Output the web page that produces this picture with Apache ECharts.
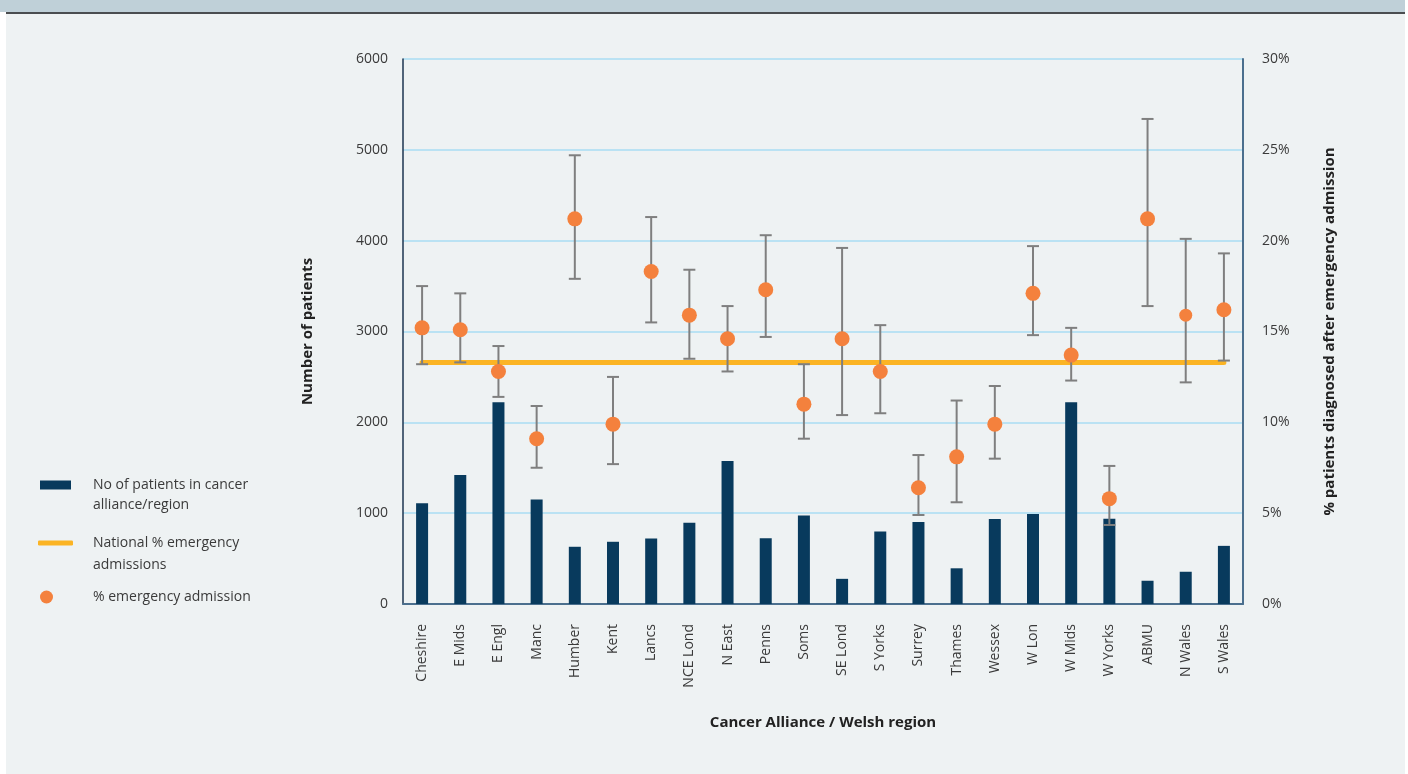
<!DOCTYPE html>
<html>
<head>
<meta charset="utf-8">
<script src="https://cdn.jsdelivr.net/npm/echarts@6/dist/echarts.min.js"></script>
<style>
html,body{margin:0;padding:0;background:#ffffff;}
#chart{width:1408px;height:774px;}
</style>
</head>
<body>
<div id="chart"></div>
<script>
// ---- data ----
const categories = ['Cheshire','E Mids','E Engl','Manc','Humber','Kent','Lancs','NCE Lond','N East','Penns','Soms','SE Lond','S Yorks','Surrey','Thames','Wessex','W Lon','W Mids','W Yorks','ABMU','N Wales','S Wales'];
const patients = [1110,1420,2220,1150,630,685,720,895,1575,725,975,277,797,902,393,935,990,2220,938,256,355,640];
const pctEmergency = [15.2,15.1,12.8,9.1,21.2,9.9,18.3,15.9,14.6,17.3,11.0,14.6,12.8,6.4,8.1,9.9,17.1,13.7,5.8,21.2,15.9,16.2];
const pctLower = [13.2,13.3,11.4,7.5,17.9,7.7,15.5,13.5,12.8,14.7,9.1,10.4,10.5,4.9,5.6,8.0,14.8,12.3,4.35,16.4,12.2,13.4];
const pctUpper = [17.5,17.1,14.2,10.9,24.7,12.5,21.3,18.4,16.4,20.3,13.2,19.6,15.35,8.2,11.2,12.0,19.7,15.2,7.6,26.7,20.1,19.3];
const nationalPct = 13.3;
const leftTicks = {min:0, max:6000, interval:1000};
const rightTicks = {min:0, max:30, interval:5};

const NAME_BAR = 'No of patients in cancer\nalliance/region';
const NAME_LINE = 'National % emergency\nadmissions';
const NAME_DOT = '% emergency admission';

const FONT = '"Open Sans", "Noto Sans", sans-serif';
const TXT = '#3a3a3a';

const chart = echarts.init(document.getElementById('chart'), null, {renderer:'canvas'});

const errData = categories.map((c,i)=>[i, pctLower[i], pctUpper[i]]);
const dotData = pctEmergency.map((v,i)=> categories[i]==='N Wales' ? {value:v, symbolSize:13} : v);

const option = {
  backgroundColor:'#ffffff',
  animation:false,
  textStyle:{fontFamily:FONT},
  graphic:[
    {type:'rect', z:-10, silent:true, shape:{x:6,y:13,width:1399,height:761}, style:{fill:'#eef2f3'}},
    {type:'rect', z:-10, silent:true, shape:{x:0,y:0,width:1405,height:12}, style:{fill:'#bfd0d8'}},
    {type:'rect', z:-10, silent:true, shape:{x:6,y:12,width:1399,height:2}, style:{fill:'#4a4d50'}}
  ],
  legend:[
    {show:true, left:40, top:455, padding:0, itemWidth:31, itemHeight:9,
     data:[{name:NAME_BAR, icon:'rect'}],
     formatter:function(n){return '\n' + n;},
     textStyle:{fontFamily:FONT, fontSize:14, color:TXT, lineHeight:20, padding:[0,0,0,17]}, selectedMode:false},
    {show:true, left:38, top:510, padding:0, itemWidth:35, itemHeight:5,
     data:[{name:NAME_LINE, icon:'roundRect', itemStyle:{color:'#fbb424'}}],
     formatter:function(n){return '\n' + n;},
     textStyle:{fontFamily:FONT, fontSize:14, color:TXT, lineHeight:22, padding:[0,0,0,15]}, selectedMode:false},
    {show:true, left:40, top:587, padding:0, itemWidth:13, itemHeight:13,
     data:[{name:NAME_DOT, icon:'circle'}],
     textStyle:{fontFamily:FONT, fontSize:14, color:TXT, lineHeight:20, padding:[0,0,0,35]}, selectedMode:false}
  ],
  grid:{left:403, right:165, top:59, bottom:170, containLabel:false},
  xAxis:{
    type:'category', data:categories, boundaryGap:true,
    axisLine:{show:true, lineStyle:{color:'#4b6f8e', width:2}},
    axisTick:{show:false},
    axisLabel:{rotate:90, margin:20, fontFamily:FONT, fontSize:14, color:TXT, interval:0},
    name:'Cancer Alliance / Welsh region', nameLocation:'middle', nameGap:111,
    nameTextStyle:{fontFamily:FONT, fontSize:15, fontWeight:'bold', color:'#222'}
  },
  yAxis:[
    {type:'value', min:leftTicks.min, max:leftTicks.max, interval:leftTicks.interval, position:'left',
     axisLine:{show:true, lineStyle:{color:'#1c3550', width:1.5}},
     axisTick:{show:false},
     axisLabel:{margin:15, fontFamily:FONT, fontSize:14, color:TXT, formatter:function(v){return String(v);}},
     splitLine:{show:true, lineStyle:{color:'#a9dcf3', width:1.5}},
     name:'Number of patients', nameLocation:'middle', nameGap:88, nameRotate:90,
     nameTextStyle:{fontFamily:FONT, fontSize:15, fontWeight:'bold', color:'#222'}},
    {type:'value', min:rightTicks.min, max:rightTicks.max, interval:rightTicks.interval, position:'right',
     axisLine:{show:true, lineStyle:{color:'#4b6f8e', width:2}},
     axisTick:{show:false},
     axisLabel:{margin:19, fontFamily:FONT, fontSize:14, color:TXT, formatter:'{value}%'},
     splitLine:{show:false},
     name:'% patients diagnosed after emergency admission', nameLocation:'middle', nameGap:79, nameRotate:90,
     nameTextStyle:{fontFamily:FONT, fontSize:15, fontWeight:'bold', color:'#222'}}
  ],
  series:[
    {name:NAME_BAR, type:'bar', yAxisIndex:0, data:patients, barWidth:12,
     itemStyle:{color:'#083a5d'}, z:2},
    {name:NAME_LINE, type:'line', yAxisIndex:1, data:categories.map(()=>nationalPct),
     showSymbol:false, symbol:'none', lineStyle:{color:'#fbb424', width:5, cap:'round'},
     itemStyle:{color:'#fbb424'}, z:3},
    {name:'errors', type:'custom', yAxisIndex:1, data:errData, z:4,
     encode:{x:0, y:[1,2]},
     renderItem:function(params, api){
       const x = api.value(0);
       const lo = api.coord([x, api.value(1)]);
       const hi = api.coord([x, api.value(2)]);
       const hw = 6;
       const st = {stroke:'#7f7f7f', lineWidth:2, fill:null};
       return {type:'group', children:[
         {type:'line', shape:{x1:lo[0], y1:lo[1], x2:hi[0], y2:hi[1]}, style:st},
         {type:'line', shape:{x1:lo[0]-hw, y1:lo[1], x2:lo[0]+hw, y2:lo[1]}, style:st},
         {type:'line', shape:{x1:hi[0]-hw, y1:hi[1], x2:hi[0]+hw, y2:hi[1]}, style:st}
       ]};
     }},
    {name:NAME_DOT, type:'scatter', yAxisIndex:1, data:dotData, symbolSize:15,
     itemStyle:{color:'#f4813d', opacity:1}, z:5}
  ]
};
chart.setOption(option);
</script>
</body>
</html>
